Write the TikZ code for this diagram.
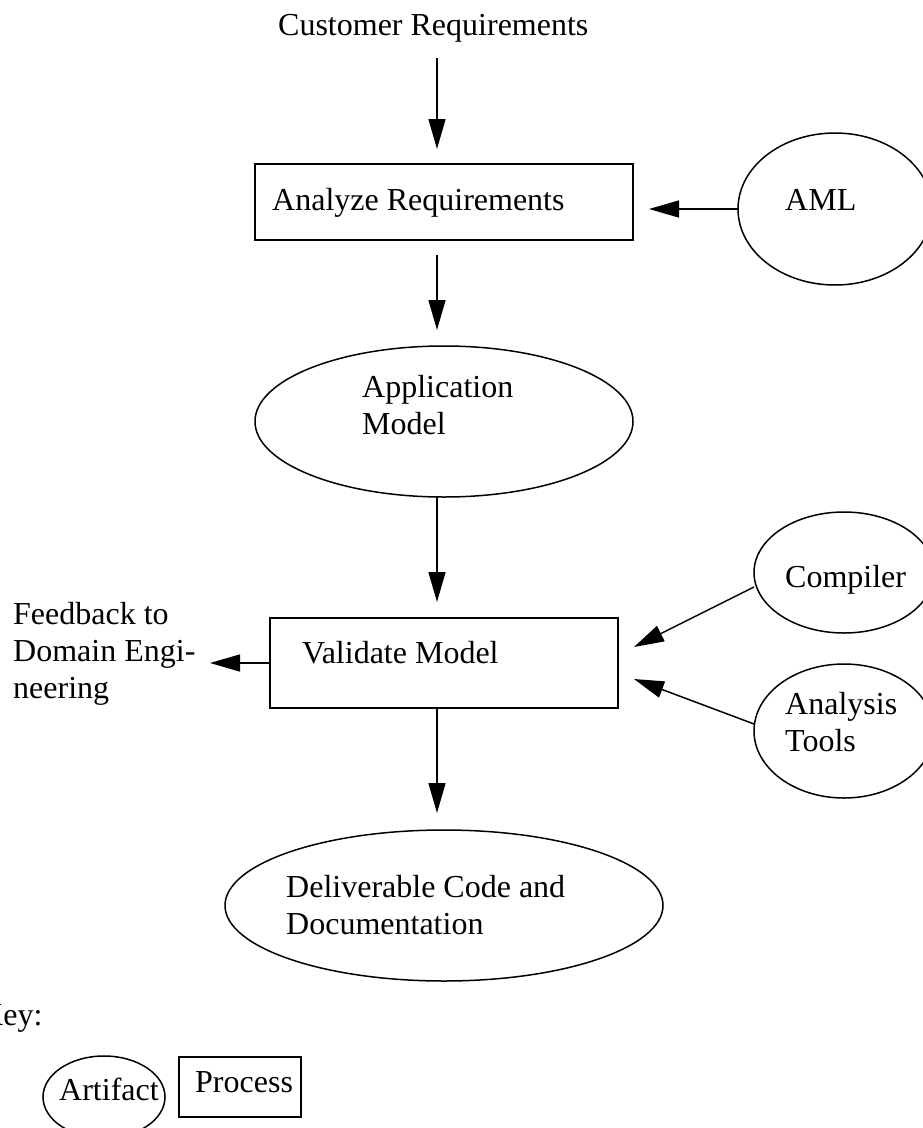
\documentclass[tikz,border=0pt]{standalone}
\usepackage{fontspec}
\setmainfont{Liberation Serif}
\usetikzlibrary{arrows.meta,shapes.geometric}
\begin{document}
\begin{tikzpicture}[x=1pt,y=-1pt,
  procbox/.style={draw, rectangle, inner sep=0pt, outer sep=0pt, line width=1.5pt},
  artifact/.style={draw, ellipse, inner sep=0pt, outer sep=0pt, line width=1.5pt},
  lbl/.style={anchor=base west, inner sep=0pt, align=left,
              font=\fontsize{32pt}{37pt}\selectfont},
  arr/.style={-{Triangle[length=30pt,width=17pt]}, line width=1.5pt}]
\useasboundingbox (0,0) rectangle (922,1128);

% processes
\node[procbox, minimum width=378pt, minimum height=76pt] (ana) at (444,202) {};
\node[procbox, minimum width=348pt, minimum height=90pt] (val) at (444,663) {};

% artifacts
\node[artifact, minimum width=378pt, minimum height=151pt] (app) at (444,421.5) {};
\node[artifact, minimum width=438pt, minimum height=151pt] (del) at (444,905.5) {};
\node[artifact, minimum width=194pt, minimum height=152pt] (aml) at (835,209) {};
\node[artifact, minimum width=180pt, minimum height=121pt] (comp) at (844,572.5) {};
\node[artifact, minimum width=180pt, minimum height=134pt] (tools) at (844,731) {};

% labels (multi-line labels are placed by the baseline of their last line)
\node[lbl] (custT) at (278,35) {Customer Requirements};
\node[lbl] (anaT) at (272,210) {Analyze Requirements};
\node[lbl] (amlT) at (785,210) {AML};
\node[lbl] (appT) at (362,434) {Application\\Model};
\node[lbl] (valT) at (302,663) {Validate Model};
\node[lbl] (fbT) at (13,698) {Feedback to\\Domain Engi-\\neering};
\node[lbl] (compT) at (785,587) {Compiler};
\node[lbl] (toolsT) at (785,751) {Analysis\\Tools};
\node[lbl] (delT) at (286,934) {Deliverable Code and\\Documentation};
\coordinate (fbtip) at (210,663);

% flow
\draw[arr, shorten <=16pt, shorten >=15pt] ([xshift=-7pt]ana.north |- custT.south) -- ([xshift=-7pt]ana.north);
\draw[arr, shorten <=15pt, shorten >=16pt] ([xshift=-7pt]ana.south) -- ([xshift=-7pt]ana.south |- app.north);
\draw[arr, shorten >=16pt] ([xshift=-7pt]app.south) -- ([xshift=-7pt]val.north);
\draw[arr, shorten >=17pt] ([xshift=-7pt]val.south) -- ([xshift=-7pt]val.south |- del.north);
\draw[arr, shorten >=16pt] (aml.west) -- (aml.west -| ana.east);
\draw[arr] (val.west) -- (fbtip);
\draw[arr] ([yshift=-14.5pt]comp.west) -- ([xshift=16pt,yshift=16pt]val.east);
\draw[arr] ([yshift=7pt]tools.west) -- ([xshift=16pt,yshift=-16pt]val.east);

% key
\node[lbl] (keyT) at (-20,1025) {Key:};
\node[artifact, minimum width=122pt, minimum height=82pt] (keyart) at (104,1097) {};
\node[procbox, minimum width=122pt, minimum height=60pt] (keyproc) at (240,1087) {};
\node[lbl] (keyartT) at (59,1100) {Artifact};
\node[lbl] (keyprocT) at (195,1092) {Process};
\end{tikzpicture}
\end{document}
